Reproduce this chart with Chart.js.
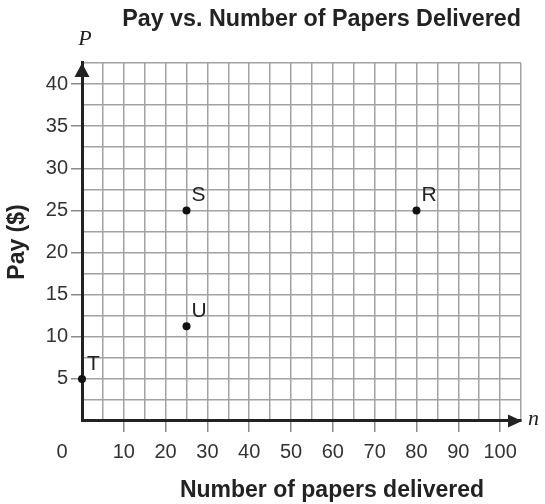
<!DOCTYPE html>
<html>
<head>
<meta charset="utf-8">
<title>Pay vs. Number of Papers Delivered</title>
<script src="https://cdn.jsdelivr.net/npm/chart.js@4.4.0/dist/chart.umd.min.js"></script>
<style>
  html, body { margin: 0; padding: 0; background: #ffffff; }
  #wrap { width: 545px; height: 504px; }
</style>
</head>
<body>
<div id="wrap"><canvas id="payChart"></canvas></div>
<script>
// Dados
const pointLabels = ['T', 'U', 'S', 'R'];
const papersDelivered = [0, 25, 25, 80];
const payDollars = [5, 11.25, 25, 25];

// Rótulos dos eixos
const xTickLabels = [10, 20, 30, 40, 50, 60, 70, 80, 90, 100];
const yTickLabels = [5, 10, 15, 20, 25, 30, 35, 40];
const xGridValues = [0, 5, 10, 15, 20, 25, 30, 35, 40, 45, 50, 55, 60, 65, 70, 75, 80, 85, 90, 95, 100, 105];
const yGridValues = [0, 2.5, 5, 7.5, 10, 12.5, 15, 17.5, 20, 22.5, 25, 27.5, 30, 32.5, 35, 37.5, 40, 42.5];

const INK = '#222222';
const GRID = '#a2a2a2';

Chart.defaults.font.family = '"Liberation Sans", Arial, Helvetica, sans-serif';
Chart.defaults.color = '#333333';

// Desenha setas, rótulos dos pontos e textos extras
const extrasPlugin = {
  id: 'extras',
  afterDraw(chart) {
    const { ctx, chartArea, scales } = chart;
    const x0 = scales.x.getPixelForValue(0);
    const y0 = scales.y.getPixelForValue(0);
    ctx.save();
    ctx.fillStyle = INK;

    // seta do eixo P
    ctx.beginPath();
    ctx.moveTo(x0, chartArea.top);
    ctx.lineTo(x0 - 7.5, chartArea.top + 14);
    ctx.lineTo(x0 + 7.5, chartArea.top + 14);
    ctx.closePath();
    ctx.fill();

    // seta do eixo n
    ctx.beginPath();
    ctx.moveTo(chartArea.right + 1, y0);
    ctx.lineTo(chartArea.right - 13, y0 - 6.5);
    ctx.lineTo(chartArea.right - 13, y0 + 6.5);
    ctx.closePath();
    ctx.fill();

    // nomes das variáveis
    ctx.font = 'italic 22px "Liberation Serif", "DejaVu Serif", serif';
    ctx.textAlign = 'center';
    ctx.textBaseline = 'alphabetic';
    ctx.fillText('P', x0 + 3, chartArea.top - 18);
    ctx.textAlign = 'left';
    ctx.fillText('n', chartArea.right + 7, y0 + 4);

    // origem
    ctx.fillStyle = '#333333';
    ctx.font = '20px "Liberation Sans", Arial, sans-serif';
    ctx.textAlign = 'center';
    ctx.textBaseline = 'middle';
    ctx.fillText('0', x0 - 20, y0 + 31);

    // rótulos dos pontos
    ctx.fillStyle = INK;
    ctx.font = '21px "Liberation Sans", Arial, sans-serif';
    ctx.textAlign = 'left';
    const meta = chart.getDatasetMeta(0);
    meta.data.forEach((pt, i) => {
      ctx.fillText(pointLabels[i], pt.x + 5, pt.y - 15);
    });

    // título do eixo x
    ctx.font = 'bold 23px "Liberation Sans", Arial, sans-serif';
    ctx.textAlign = 'center';
    ctx.textBaseline = 'alphabetic';
    ctx.fillText('Number of papers delivered', 332, chart.height - 7);
    ctx.restore();
  }
};

const ctx = document.getElementById('payChart').getContext('2d');

new Chart(ctx, {
  type: 'scatter',
  data: {
    datasets: [{
      label: 'Pay',
      data: papersDelivered.map((n, i) => ({ x: n, y: payDollars[i] })),
      backgroundColor: '#111111',
      borderWidth: 0,
      pointRadius: 4,
      pointHoverRadius: 4,
      clip: false
    }]
  },
  options: {
    responsive: true,
    maintainAspectRatio: false,
    animation: false,
    layout: {
      padding: { left: 0, right: 24, top: 0, bottom: 0 }
    },
    plugins: {
      legend: { display: false },
      tooltip: { enabled: false },
      title: {
        display: true,
        text: 'Pay vs. Number of Papers Delivered',
        align: 'end',
        color: INK,
        font: { size: 23.3, weight: 'bold' },
        padding: { top: 6, bottom: 29 }
      }
    },
    scales: {
      x: {
        type: 'linear',
        min: 0,
        max: 105,
        afterBuildTicks: (scale) => {
          scale.ticks = xGridValues.map(v => ({ value: v }));
        },
        afterFit: (scale) => {
          scale.height = 83;
        },
        ticks: {
          autoSkip: false,
          maxRotation: 0,
          padding: 8,
          color: '#333333',
          font: { size: 20 },
          callback: (value) => xTickLabels.includes(value) ? String(value) : ''
        },
        grid: {
          color: GRID,
          lineWidth: 1.5,
          tickLength: 11,
          tickWidth: 1.5,
          tickColor: (c) => xTickLabels.includes(c.tick && c.tick.value) ? '#8a8a8a' : 'rgba(0,0,0,0)'
        },
        border: { color: INK, width: 3 }
      },
      y: {
        type: 'linear',
        min: 0,
        max: 42.5,
        afterBuildTicks: (scale) => {
          scale.ticks = yGridValues.map(v => ({ value: v }));
        },
        afterFit: (scale) => {
          scale.width = 82;
        },
        title: {
          display: true,
          text: 'Pay ($)',
          color: INK,
          font: { size: 23, weight: 'bold' },
          padding: { top: 4, bottom: 0 }
        },
        ticks: {
          autoSkip: false,
          padding: 3,
          color: '#333333',
          font: { size: 20 },
          callback: (value) => yTickLabels.includes(value) ? String(value) : ''
        },
        grid: {
          color: GRID,
          lineWidth: 1.5,
          tickLength: 11,
          tickWidth: 1.5,
          tickColor: (c) => yTickLabels.includes(c.tick && c.tick.value) ? '#8a8a8a' : 'rgba(0,0,0,0)'
        },
        border: { color: INK, width: 3 }
      }
    }
  },
  plugins: [extrasPlugin]
});
</script>
</body>
</html>
